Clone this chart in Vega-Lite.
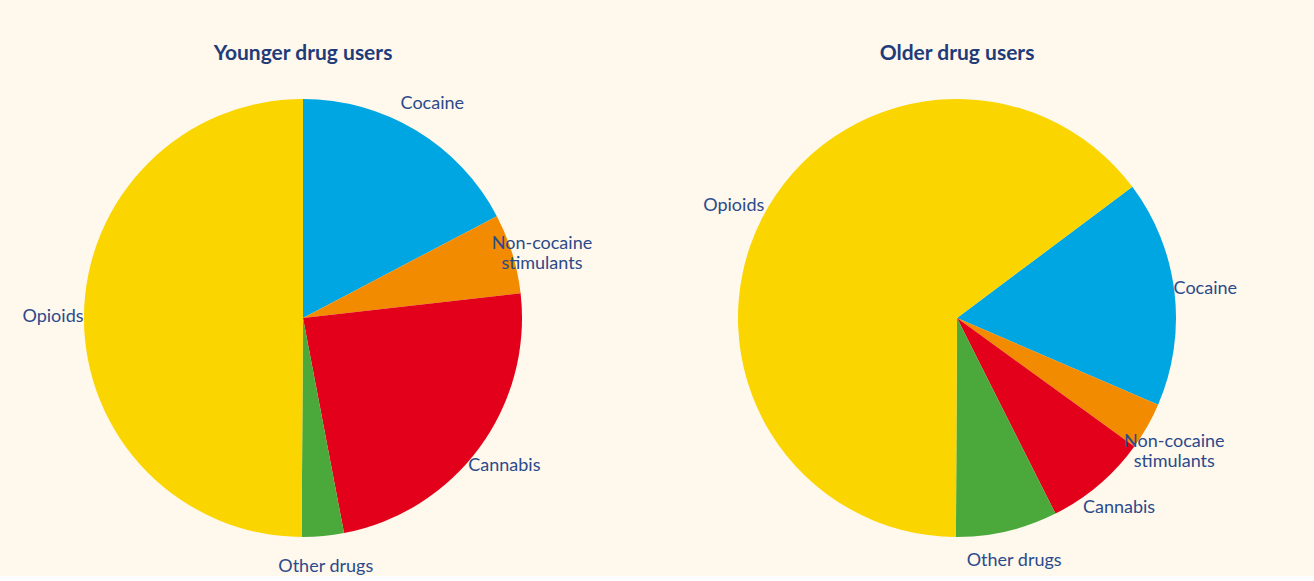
{
  "$schema": "https://vega.github.io/schema/vega-lite/v6.json",
  "background": "#FFF8EC",
  "padding": {"left": 3, "top": 43, "right": 57, "bottom": 0},
  "bounds": "flush",
  "spacing": 54,
  "config": {"view": {"stroke": null}},
  "data": {"values": [
    {"group": "Younger", "drug": "Cocaine", "label": "Cocaine", "i": 1, "value": 17.3},
    {"group": "Younger", "drug": "Non-cocaine stimulants", "label": "Non-cocaine\nstimulants", "i": 2, "value": 5.9},
    {"group": "Younger", "drug": "Cannabis", "label": "Cannabis", "i": 3, "value": 23.8},
    {"group": "Younger", "drug": "Other drugs", "label": "Other drugs", "i": 4, "value": 3.1},
    {"group": "Younger", "drug": "Opioids", "label": "Opioids", "i": 5, "value": 49.9},
    {"group": "Older", "drug": "Cocaine", "label": "Cocaine", "i": 1, "value": 16.7},
    {"group": "Older", "drug": "Non-cocaine stimulants", "label": "Non-cocaine\nstimulants", "i": 2, "value": 3.5},
    {"group": "Older", "drug": "Cannabis", "label": "Cannabis", "i": 3, "value": 7.6},
    {"group": "Older", "drug": "Other drugs", "label": "Other drugs", "i": 4, "value": 7.5},
    {"group": "Older", "drug": "Opioids", "label": "Opioids", "i": 5, "value": 64.7}
  ]},
  "hconcat": [
    {
      "width": 600, "height": 460,
      "title": {"text": "Younger drug users", "font": "Lato", "fontSize": 21, "fontWeight": "bold", "color": "#1F3C7A", "offset": 24, "frame": "group"},
      "transform": [{"filter": "datum.group === 'Younger'"}],
      "encoding": {
        "theta": {"field": "value", "type": "quantitative", "stack": true, "scale": {"range": [0, 6.2832]}},
        "order": {"field": "i", "type": "quantitative"}
      },
      "layer": [
        {"mark": {"type": "arc", "outerRadius": 219},
         "encoding": {"color": {"field": "drug", "type": "nominal", "legend": null,
           "scale": {"domain": ["Cocaine", "Non-cocaine stimulants", "Cannabis", "Other drugs", "Opioids"],
                     "range": ["#00A6E2", "#F28B00", "#E2001A", "#4BA83A", "#FAD500"]}}}},
        {"mark": {"type": "text", "radius": 250, "font": "Lato", "fontSize": 18, "color": "#2B4A8B", "lineBreak": "\n"},
         "encoding": {"text": {"field": "label", "type": "nominal"}}}
      ]
    },
    {
      "width": 600, "height": 460,
      "title": {"text": "Older drug users", "font": "Lato", "fontSize": 21, "fontWeight": "bold", "color": "#1F3C7A", "offset": 24, "frame": "group"},
      "transform": [{"filter": "datum.group === 'Older'"}],
      "encoding": {
        "theta": {"field": "value", "type": "quantitative", "stack": true, "scale": {"range": [0.9285, 7.2117]}},
        "order": {"field": "i", "type": "quantitative"}
      },
      "layer": [
        {"mark": {"type": "arc", "outerRadius": 219},
         "encoding": {"color": {"field": "drug", "type": "nominal", "legend": null,
           "scale": {"domain": ["Cocaine", "Non-cocaine stimulants", "Cannabis", "Other drugs", "Opioids"],
                     "range": ["#00A6E2", "#F28B00", "#E2001A", "#4BA83A", "#FAD500"]}}}},
        {"mark": {"type": "text", "radius": 250, "font": "Lato", "fontSize": 18, "color": "#2B4A8B", "lineBreak": "\n"},
         "encoding": {"text": {"field": "label", "type": "nominal"}}}
      ]
    }
  ]
}
